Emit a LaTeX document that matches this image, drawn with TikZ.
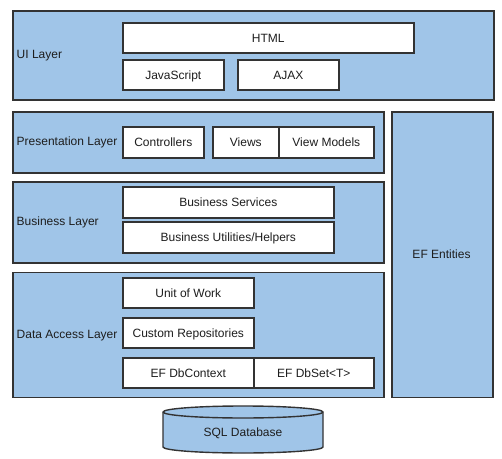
\documentclass[tikz,border=0pt]{standalone}
\usepackage{fontspec}
\setmainfont{Liberation Sans}
\usetikzlibrary{positioning}
\definecolor{layerblue}{RGB}{160,197,232}
\definecolor{edge}{RGB}{51,51,51}
\definecolor{ink}{RGB}{30,30,30}
\tikzset{
  txt/.style={text=ink, font=\fontsize{12bp}{14bp}\selectfont, text height=8.6bp, text depth=0pt},
  layer/.style={draw=edge, fill=layerblue, line width=1.6bp, anchor=north west, inner sep=0pt},
  item/.style={draw=edge, fill=white, line width=1.6bp, anchor=north west, inner sep=0pt, txt},
  lbl/.style={anchor=west, inner sep=0pt, txt}
}
\begin{document}
\begin{tikzpicture}[x=1bp,y=-1bp]
\useasboundingbox[fill=white] (0,0) rectangle (502,459);
% layers
\node[layer, minimum width=481bp, minimum height=89bp] (ui) at (12,10) {};
\node[layer, minimum width=371bp, minimum height=61bp] (pres) at (12,111) {};
\node[layer, minimum width=371bp, minimum height=81bp] (bus) at (12,181) {};
\node[layer, minimum width=371bp, minimum height=125bp] (dal) at (12,271.5) {};
\node[layer, minimum width=101bp, minimum height=285.5bp] (ent) at (391,111) {};
\node[anchor=center, inner sep=0pt, txt] (entl) at (441.5,254) {EF Entities};
% labels
\node[lbl] (uil) at (16.5,54.5) {UI Layer};
\node[lbl] (presl) at (16.5,141.5) {Presentation Layer};
\node[lbl] (busl) at (16.5,221.5) {Business Layer};
\node[lbl] (dall) at (16.5,334) {Data Access Layer};
% UI items
\node[item, minimum width=291bp, minimum height=30bp] (html) at (122,22) {HTML};
\node[item, minimum width=101bp, minimum height=30bp] (js) at (122,59) {JavaScript};
\node[item, minimum width=101bp, minimum height=30bp] (ajax) at (237,59) {AJAX};
% Presentation items
\node[item, minimum width=81bp, minimum height=31bp] (ctrl) at (122,126) {Controllers};
\node[item, minimum width=66bp, minimum height=31bp] (views) at (212,126) {Views};
\node[item, minimum width=95bp, minimum height=31bp] (vm) at (278,126) {View Models};
% Business items
\node[item, minimum width=211bp, minimum height=31bp] (bsvc) at (122,186) {Business Services};
\node[item, minimum width=211bp, minimum height=31bp] (butil) at (122,221) {Business Utilities/Helpers};
% Data access items
\node[item, minimum width=131bp, minimum height=30bp] (uow) at (122,277) {Unit of Work};
\node[item, minimum width=131bp, minimum height=30bp] (repo) at (122,317) {Custom Repositories};
\node[item, minimum width=131bp, minimum height=30bp] (ctx) at (122,357) {EF DbContext};
\node[item, minimum width=120bp, minimum height=30bp] (dbset) at (253,357) {EF DbSet<T>};
% database cylinder
\draw[draw=edge, fill=layerblue, line width=1.4bp]
  (163,412) -- (163,447) arc[start angle=180, end angle=0, x radius=80, y radius=6]
  -- (323,412) arc[start angle=0, end angle=-180, x radius=80, y radius=6] -- cycle;
\draw[draw=edge, line width=1.4bp] (163,412) arc[start angle=180, end angle=0, x radius=80, y radius=6];
\node[anchor=center, inner sep=0pt, txt] (db) at (243,432.5) {SQL Database};
\end{tikzpicture}
\end{document}
